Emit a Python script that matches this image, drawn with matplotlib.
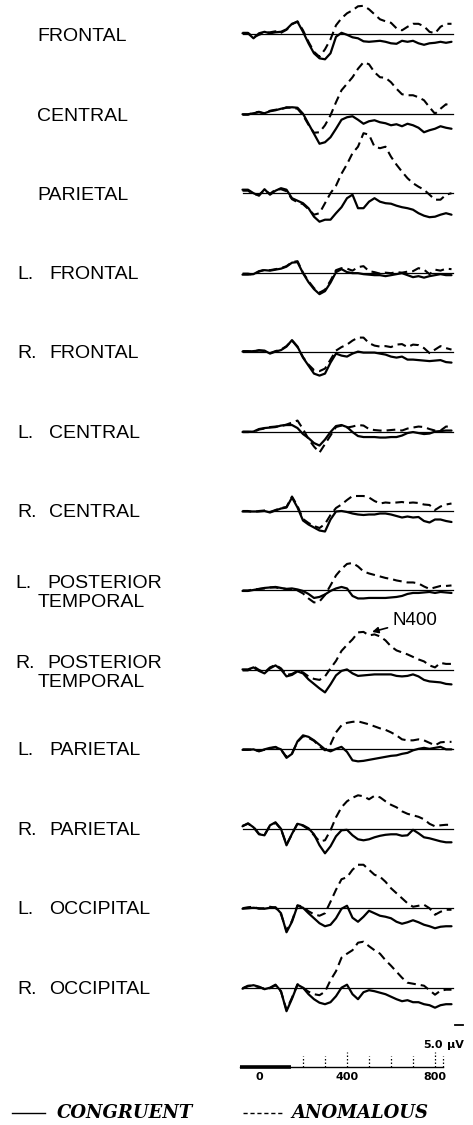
import matplotlib
matplotlib.use("Agg")
import matplotlib.pyplot as plt
from matplotlib.lines import Line2D

# ---------------- data (μV, positive = down, as in the original ERP plot) -------------
TIME_MS = [-75, -50, -25, 0, 25, 50, 75, 100, 125, 150, 175, 200, 225, 250, 275, 300,
           325, 350, 375, 400, 425, 450, 475, 500, 525, 550, 575, 600, 625, 650, 675,
           700, 725, 750, 775, 800, 825, 850, 875]

ELECTRODE_PREFIX = ["", "", "", "L.", "R.", "L.", "R.", "L.", "R.", "L.", "R.", "L.", "R."]
ELECTRODE_NAME = ["FRONTAL", "CENTRAL", "PARIETAL", "FRONTAL", "FRONTAL", "CENTRAL",
                  "CENTRAL", "POSTERIOR\nTEMPORAL", "POSTERIOR\nTEMPORAL", "PARIETAL",
                  "PARIETAL", "OCCIPITAL", "OCCIPITAL"]

frontal_cong = [-0.2, -0.2, 0.8, -0.2, -0.5, -0.2, -0.4, -0.5, -1.0, -2.1, -2.5, -0.5, 1.8, 3.8, 4.8, 5.0, 3.8, 0.5, -0.3, 0.1, 0.6, 0.8, 1.4, 1.5, 1.4, 1.3, 1.5, 1.8, 1.9, 1.3, 1.5, 1.3, 1.8, 2.1, 1.8, 1.7, 1.5, 1.7, 1.5]
frontal_anom = [-0.3, -0.3, 0.6, 0.1, -0.3, -0.4, -0.6, -0.3, -0.9, -2.0, -2.6, -0.8, 1.5, 3.5, 4.5, 3.0, 1.0, -1.8, -3.2, -4.2, -4.8, -5.6, -5.7, -5.0, -4.0, -3.0, -2.6, -2.3, -1.2, -0.8, -1.5, -2.1, -2.1, -1.6, -0.5, -0.2, -1.5, -2.1, -2.1]

central_cong = [0.1, 0.1, -0.1, -0.3, -0.1, -0.5, -0.7, -1.0, -1.2, -1.3, -1.2, 0.0, 2.0, 4.0, 6.0, 5.7, 4.7, 3.0, 1.2, 0.7, 0.5, 1.2, 2.0, 1.5, 1.3, 1.7, 1.9, 2.3, 2.1, 2.5, 2.0, 2.3, 2.8, 3.7, 3.3, 3.0, 2.5, 2.8, 3.0]
central_anom = [0.2, 0.2, -0.2, -0.4, 0.0, -0.6, -0.8, -0.9, -1.3, -1.2, -1.0, 0.3, 2.2, 3.8, 3.7, 2.3, 0.3, -2.3, -4.7, -6.0, -7.3, -9.0, -10.3, -9.9, -8.3, -7.3, -7.2, -6.3, -5.0, -3.9, -3.7, -3.7, -3.3, -2.7, -1.3, 0.0, -1.0, -1.9, -1.5]

parietal_cong = [-0.7, -0.7, 0.0, 0.5, -0.8, 0.3, -0.5, -1.0, -0.7, 1.0, 1.5, 2.0, 3.0, 4.7, 5.7, 5.3, 5.3, 4.0, 2.8, 1.0, 0.3, 3.0, 3.0, 1.7, 1.0, 1.7, 2.0, 2.1, 2.5, 2.8, 3.0, 3.3, 4.0, 4.5, 4.8, 4.7, 4.3, 4.0, 4.3]
parietal_anom = [-0.5, -0.5, 0.2, 0.3, -0.6, 0.1, -0.7, -0.8, -0.4, 1.2, 1.8, 2.2, 3.2, 4.3, 4.0, 2.0, 0.0, -1.5, -3.9, -5.8, -8.0, -9.3, -12.0, -11.7, -9.3, -9.0, -9.3, -7.3, -5.7, -4.3, -3.0, -2.0, -1.3, -0.7, 0.3, 1.3, 1.3, 0.3, 0.0]

l_frontal_cong = [0.4, 0.4, 0.3, -0.3, -0.5, -0.4, -0.6, -0.8, -1.2, -2.0, -2.1, 0.1, 1.9, 3.3, 4.3, 3.7, 2.0, -0.1, -0.7, -0.1, 0.1, 0.1, 0.3, 0.4, 0.5, 0.5, 0.7, 0.5, 0.3, 0.1, 0.5, 0.9, 0.7, 1.0, 0.7, 0.5, 0.3, 0.5, 0.5]
l_frontal_anom = [0.2, 0.2, 0.4, -0.2, -0.6, -0.5, -0.7, -0.9, -1.3, -2.1, -2.3, 0.0, 1.7, 3.1, 4.0, 3.4, 1.6, -0.5, -0.9, -0.8, -0.4, -1.1, -1.3, -0.3, -0.1, 0.2, 0.0, 0.1, -0.1, 0.0, -0.2, -0.3, -0.9, -0.6, 0.3, -0.6, -0.4, -0.8, -0.7]

r_frontal_cong = [-0.1, -0.1, -0.2, -0.3, -0.3, 0.3, -0.1, -0.4, -1.1, -2.4, -1.1, 1.1, 2.7, 4.3, 4.7, 4.3, 2.1, 0.3, 0.7, 0.9, 0.3, -0.1, 0.1, 0.1, 0.1, 0.3, 0.5, 0.9, 1.1, 0.9, 1.5, 1.5, 1.6, 1.7, 1.8, 1.7, 1.6, 2.0, 2.1]
r_frontal_anom = [-0.2, -0.2, -0.1, -0.4, -0.2, 0.2, -0.2, -0.5, -1.2, -2.3, -1.0, 1.0, 2.5, 3.6, 3.8, 3.3, 1.5, -0.3, -1.0, -1.5, -2.3, -2.9, -2.9, -1.8, -1.3, -1.1, -1.2, -1.0, -1.5, -1.6, -1.0, -1.5, -1.4, -0.8, 0.2, -0.5, -1.2, -0.8, -0.5]

l_central_cong = [0.1, 0.1, 0.0, -0.5, -0.7, -0.8, -0.9, -1.2, -1.3, -1.3, -0.7, 0.5, 1.3, 2.3, 2.8, 1.6, 0.1, -1.1, -1.3, -0.9, 0.1, 0.9, 1.1, 1.1, 1.1, 1.2, 1.2, 1.1, 1.1, 0.8, 0.3, 0.1, 0.3, 0.5, 0.4, 0.0, -0.1, -0.2, -0.2]
l_central_anom = [0.0, 0.0, 0.1, -0.4, -0.6, -0.9, -1.0, -1.1, -1.4, -1.8, -2.2, -0.5, 1.5, 3.0, 4.2, 2.5, 0.8, -0.9, -1.2, -0.8, -1.0, -1.3, -1.2, -0.5, -0.3, -0.2, -0.2, -0.3, -0.4, -0.2, -0.6, -0.8, -1.0, -0.9, -0.5, -0.2, -0.2, -1.0, -1.0]

r_central_cong = [0.1, 0.1, 0.1, 0.1, 0.0, 0.3, -0.1, -0.5, -0.7, -2.7, -0.7, 1.9, 2.7, 3.3, 3.9, 4.1, 1.7, 0.1, 0.0, 0.2, 0.5, 0.7, 0.8, 0.7, 0.7, 0.5, 0.5, 0.7, 1.0, 1.3, 1.1, 1.3, 1.2, 2.0, 2.3, 1.7, 1.7, 2.0, 2.2]
r_central_anom = [0.0, 0.0, 0.2, 0.0, -0.1, 0.2, -0.2, -0.6, -0.8, -2.9, -1.0, 1.6, 2.4, 3.0, 3.4, 2.6, 0.8, -0.6, -1.3, -2.2, -3.0, -3.0, -3.0, -2.7, -2.0, -1.5, -1.7, -1.6, -1.7, -1.8, -1.6, -1.7, -1.6, -1.3, -1.2, -0.2, -0.9, -1.3, -1.5]

l_post_temp_cong = [0.1, 0.1, -0.1, -0.3, -0.5, -0.6, -0.7, -0.5, -0.3, -0.4, -0.2, 0.1, 0.7, 1.5, 1.3, 0.8, 0.1, -0.4, -0.7, -0.4, 1.1, 1.6, 1.6, 1.5, 1.5, 1.5, 1.5, 1.4, 1.3, 1.1, 0.7, 0.5, 0.5, 0.4, 0.3, 0.5, 0.3, 0.4, 0.5]
l_post_temp_anom = [0.0, 0.0, -0.2, -0.3, -0.4, -0.6, -0.6, -0.4, -0.3, -0.3, 0.0, 0.6, 1.6, 2.4, 2.2, 0.9, -1.0, -3.0, -4.3, -5.3, -5.5, -4.8, -3.8, -3.4, -3.1, -2.8, -2.5, -2.3, -2.0, -1.8, -1.6, -1.6, -1.4, -0.8, -0.3, -0.6, -0.9, -0.9, -1.0]

r_post_temp_cong = [-0.1, -0.1, -0.5, 0.2, 0.7, -0.3, -0.9, -0.1, 1.3, 1.0, 0.3, 0.7, 1.9, 2.8, 3.7, 4.5, 2.9, 1.1, 0.2, -0.1, 0.7, 1.2, 1.1, 1.0, 0.9, 0.9, 0.9, 0.9, 1.2, 1.3, 1.2, 0.9, 1.3, 2.0, 2.3, 2.4, 2.5, 2.8, 2.9]
r_post_temp_anom = [0.1, 0.1, -0.7, 0.0, 0.5, -0.5, -1.0, -0.3, 1.0, 0.8, 0.2, 0.5, 1.3, 1.8, 2.0, 1.3, -0.3, -1.8, -3.8, -5.0, -6.1, -7.5, -7.6, -6.9, -7.1, -6.7, -5.9, -4.7, -3.9, -3.5, -3.1, -2.6, -2.1, -1.7, -0.9, -0.5, -1.4, -1.2, -1.2]

l_parietal_cong = [0.1, 0.1, 0.0, 0.4, 0.0, -0.3, -0.4, 0.0, 1.7, 0.9, -1.6, -2.8, -2.5, -1.8, -0.9, 0.0, 0.4, -0.1, -0.5, 0.5, 2.2, 2.4, 2.3, 2.1, 1.9, 1.7, 1.5, 1.3, 1.2, 0.9, 0.7, 0.2, -0.1, -0.3, -0.1, -0.3, -0.5, 0.0, 0.0]
l_parietal_anom = [0.0, 0.0, 0.1, 0.3, 0.1, -0.2, -0.5, 0.1, 1.5, 0.8, -1.5, -2.6, -2.3, -1.7, -0.6, 0.2, -1.0, -3.4, -4.8, -5.3, -5.5, -5.6, -5.3, -5.0, -4.6, -4.2, -3.9, -3.4, -2.8, -2.0, -1.8, -1.8, -2.0, -1.8, -1.3, -0.8, -1.4, -1.5, -1.5]

r_parietal_cong = [-0.5, -1.1, -0.3, 1.1, 1.3, -0.7, -1.3, 0.0, 3.3, 1.0, -1.0, -0.7, -0.1, 1.1, 3.3, 4.9, 3.5, 1.5, 0.3, 0.2, 1.3, 2.1, 2.3, 2.1, 1.7, 1.4, 1.2, 1.1, 1.1, 1.4, 1.3, 0.2, 0.9, 1.7, 1.9, 2.2, 2.5, 2.7, 2.7]
r_parietal_anom = [-0.6, -1.0, -0.4, 1.0, 1.2, -0.6, -1.2, 0.1, 3.1, 1.1, -1.1, -0.6, 0.1, 1.3, 2.5, 2.3, 0.3, -2.3, -4.3, -5.5, -6.2, -6.7, -6.5, -5.9, -6.6, -6.3, -5.5, -4.8, -4.3, -3.5, -3.0, -2.7, -2.4, -1.9, -1.0, -0.5, -0.7, -0.8, -0.8]

l_occipital_cong = [0.1, 0.0, -0.1, 0.0, 0.1, -0.1, -0.2, 1.0, 4.8, 2.7, -0.5, -0.1, 1.0, 2.0, 3.0, 3.6, 3.3, 2.0, 0.1, -0.5, 1.9, 2.7, 1.7, 0.5, 1.0, 1.5, 1.7, 2.0, 2.7, 3.1, 2.8, 2.4, 2.8, 3.3, 3.6, 4.0, 3.7, 3.6, 3.6]
l_occipital_anom = [0.0, -0.2, -0.3, 0.1, 0.0, -0.3, -0.1, 1.2, 4.5, 2.5, -0.6, -0.3, 0.6, 1.2, 1.5, 1.0, -1.3, -3.7, -5.8, -6.2, -7.7, -8.7, -8.7, -7.7, -6.7, -6.3, -5.3, -4.0, -3.0, -2.0, -1.0, -0.3, -0.5, -0.7, 0.0, 1.3, 0.7, 0.3, 0.3]

r_occipital_cong = [0.2, -0.3, -0.5, -0.2, 0.3, 0.0, -0.6, 0.7, 4.7, 2.2, -0.6, 0.0, 1.3, 2.3, 3.0, 3.3, 2.9, 1.7, 0.0, -0.6, 1.3, 2.3, 0.9, 0.5, 0.7, 1.0, 1.3, 1.8, 2.3, 2.7, 2.5, 2.9, 2.9, 3.3, 3.5, 4.0, 3.5, 3.3, 3.3]
r_occipital_anom = [0.1, -0.4, -0.4, -0.1, 0.2, 0.1, -0.5, 0.8, 4.4, 2.0, -0.7, 0.0, 0.8, 1.3, 1.5, 0.8, -1.5, -3.3, -6.0, -6.8, -7.5, -9.0, -9.2, -8.3, -7.5, -6.8, -5.5, -4.4, -3.2, -2.0, -1.0, -0.8, -0.6, -0.4, 0.5, 1.4, 0.6, 0.4, 0.4]

CONGRUENT = [frontal_cong, central_cong, parietal_cong, l_frontal_cong, r_frontal_cong,
             l_central_cong, r_central_cong, l_post_temp_cong, r_post_temp_cong,
             l_parietal_cong, r_parietal_cong, l_occipital_cong, r_occipital_cong]
ANOMALOUS = [frontal_anom, central_anom, parietal_anom, l_frontal_anom, r_frontal_anom,
             l_central_anom, r_central_anom, l_post_temp_anom, r_post_temp_anom,
             l_parietal_anom, r_parietal_anom, l_occipital_anom, r_occipital_anom]

TIME_TICK_LABELS = [0, 400, 800]
TIME_MINOR_TICKS = [200, 300, 400, 500, 600, 700, 800]
CAL_UV = 5.0
N400_POINT = (514, -7.6)

# ---------------- layout -------------
W, H = 473, 1125
fig = plt.figure(figsize=(W / 100, H / 100), dpi=100)
fig.patch.set_facecolor("white")


def fx(px):
    return px / W


def fy(py):
    return 1 - py / H


T0_PX = 259.0
PX_PER_MS = 0.22
PX_PER_UV = 5.0
XMIN, XMAX = -100, 900
AX_LEFT = T0_PX + XMIN * PX_PER_MS
AX_W = (XMAX - XMIN) * PX_PER_MS
YR = 14
ROW0, ROW_STEP = 34.3, 79.45

LABEL_FONT = dict(family=["Liberation Sans", "DejaVu Sans"], size=14, color="black")

row_axes = []
for i, (cong, anom) in enumerate(zip(CONGRUENT, ANOMALOUS)):
    base = ROW0 + ROW_STEP * i
    ax = fig.add_axes([fx(AX_LEFT), fy(base + YR * PX_PER_UV), AX_W / W,
                       2 * YR * PX_PER_UV / H])
    ax.set_xlim(XMIN, XMAX)
    ax.set_ylim(YR, -YR)
    ax.axis("off")
    ax.patch.set_alpha(0)
    ax.plot([-72, 880], [0, 0], color="black", lw=0.9, clip_on=False)
    ax.plot(TIME_MS, cong, color="black", lw=1.6, solid_joinstyle="round",
            solid_capstyle="round", clip_on=False)
    ax.plot(TIME_MS, anom, color="black", lw=1.5, dashes=(4.2, 2.4), clip_on=False)
    row_axes.append(ax)

    # labels
    name = ELECTRODE_NAME[i]
    pre = ELECTRODE_PREFIX[i]
    if "\n" in name:
        l1, l2 = name.split("\n")
        fig.text(fx(15), fy(base - 2), pre, va="baseline", ha="left", **LABEL_FONT)
        fig.text(fx(47), fy(base - 2), l1, va="baseline", ha="left", **LABEL_FONT)
        fig.text(fx(38), fy(base + 17), l2, va="baseline", ha="left", **LABEL_FONT)
    elif pre:
        fig.text(fx(17), fy(base + 6), pre, va="baseline", ha="left", **LABEL_FONT)
        fig.text(fx(49), fy(base + 6), name, va="baseline", ha="left", **LABEL_FONT)
    else:
        fig.text(fx(37), fy(base + 7), name, va="baseline", ha="left", **LABEL_FONT)

# N400 annotation on R. posterior temporal
row_axes[8].annotate("N400", xy=N400_POINT, xytext=(609, -9.9), ha="left", va="center",
                     fontsize=13.5, family=["Liberation Sans", "DejaVu Sans"],
                     arrowprops=dict(arrowstyle="-|>", color="black", lw=1.2,
                                     mutation_scale=9, shrinkA=2, shrinkB=0),
                     annotation_clip=False)

# ---------------- time axis + calibration -------------
tax = fig.add_axes([fx(AX_LEFT), fy(1072), AX_W / W, 55 / H])
tax.set_xlim(XMIN, XMAX)
tax.set_ylim(1, -10)
tax.axis("off")
tax.patch.set_alpha(0)
tax.plot([-86, 836], [0, 0], color="black", lw=1.0, clip_on=False)
tax.plot([-86, 145], [0, 0], color="black", lw=2.6, solid_capstyle="butt", clip_on=False)
for t in TIME_MINOR_TICKS:
    top = -3.0 if t in (400, 800) else -2.3
    tax.plot([t, t], [0, top], color="black", lw=0.9, ls=(0, (1.2, 1.6)), clip_on=False)
tax.plot([836, 836], [0, -2.3], color="black", lw=0.9, ls=(0, (1.2, 1.6)), clip_on=False)
for t in TIME_TICK_LABELS:
    tax.text(t, 2.0, str(t), ha="center", va="center", fontsize=8, fontweight="bold",
             family="DejaVu Sans")
# calibration mark (5 µV)
tax.plot([891, 925], [-8.4, -8.4], color="black", lw=1.3, clip_on=False)
tax.text(836, -4.4, f"{CAL_UV:.1f}", ha="right", va="center", fontsize=8,
         fontweight="bold", family="DejaVu Sans")
tax.text(856, -4.4, "μV", ha="left", va="center", fontsize=8, fontweight="bold",
         family="DejaVu Sans")

# ---------------- legend -------------
LEG_FONT = dict(family=["DejaVu Serif"], size=13, weight="bold", style="italic")
ly = fy(1113)
fig.add_artist(Line2D([fx(12), fx(45)], [ly, ly], color="black", lw=1.0))
fig.text(fx(57), ly, "CONGRUENT", ha="left", va="center", **LEG_FONT)
fig.add_artist(Line2D([fx(243), fx(283)], [ly, ly], color="black", lw=1.0,
                      dashes=(3.0, 2.0)))
fig.text(fx(291), ly, "ANOMALOUS", ha="left", va="center", **LEG_FONT)

fig.savefig("out.png", dpi=100, facecolor="white")
